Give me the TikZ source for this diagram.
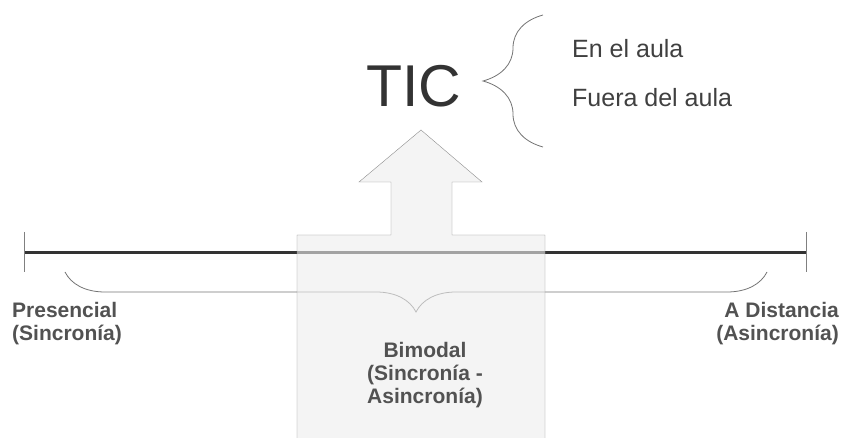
\documentclass[tikz,border=0pt]{standalone}
\usepackage{fontspec}
\setmainfont{Liberation Sans}
\usetikzlibrary{decorations.pathreplacing}
\begin{document}
\begin{tikzpicture}[x=1pt,y=-1pt,
	lbl/.style={font=\fontsize{21}{23}\selectfont\bfseries, text=black!68, inner sep=0pt},
	item/.style={font=\fontsize{25}{28}\selectfont, text=black!75, inner sep=0pt, anchor=base west},
	curly/.style={draw=black!55, line width=0.8pt, decorate, decoration={brace, amplitude=#1}}]
	\useasboundingbox (0,0) rectangle (847,438);
	% eje
	\coordinate (izq) at (24,253);
	\coordinate (der) at (806,253);
	\draw [black!80, line width=3pt] (izq) -- (der);
	\draw [black!50] (izq) ++(0,-21) -- ++(0,40);
	\draw [black!50] (der) ++(0,-21) -- ++(0,40);
	% llave inferior
	\coordinate (llA) at (767,272);
	\coordinate (llB) at (65,272);
	\draw [curly=40pt] (llA) -- (llB);
	% caja y flecha
	\draw [draw=black!45, fill=black!7, fill opacity=0.6] (297,438) -- (297,235) -- (391,235) -- (391,182) -- (359,182) -- (421,130) -- (482,182) -- (452,182) -- (452,235) -- (545,235) -- (545,438);
	% TIC
	\node [font=\fontsize{59}{59}\selectfont, text=black!80, inner sep=0pt, anchor=base] (tic) at (414,107) {TIC};
	\coordinate (llC) at (543,147);
	\coordinate (llD) at (543,15);
	\draw [curly=60pt] (llC) -- (llD);
	\node [item] (enaula) at (572,58) {En el aula};
	\node [item] (fuera) at (572,107) {Fuera del aula};
	% etiquetas
	\node [lbl, align=left, anchor=north west] (pres) at (12,302) {Presencial\\(Sincronía)};
	\node [lbl, align=right, anchor=north east] (dist) at (839,302) {A Distancia\\(Asincronía)};
	\node [lbl, align=center, anchor=north] (bimo) at (425,342) {Bimodal\\(Sincronía -\\Asincronía)};
\end{tikzpicture}
\end{document}
